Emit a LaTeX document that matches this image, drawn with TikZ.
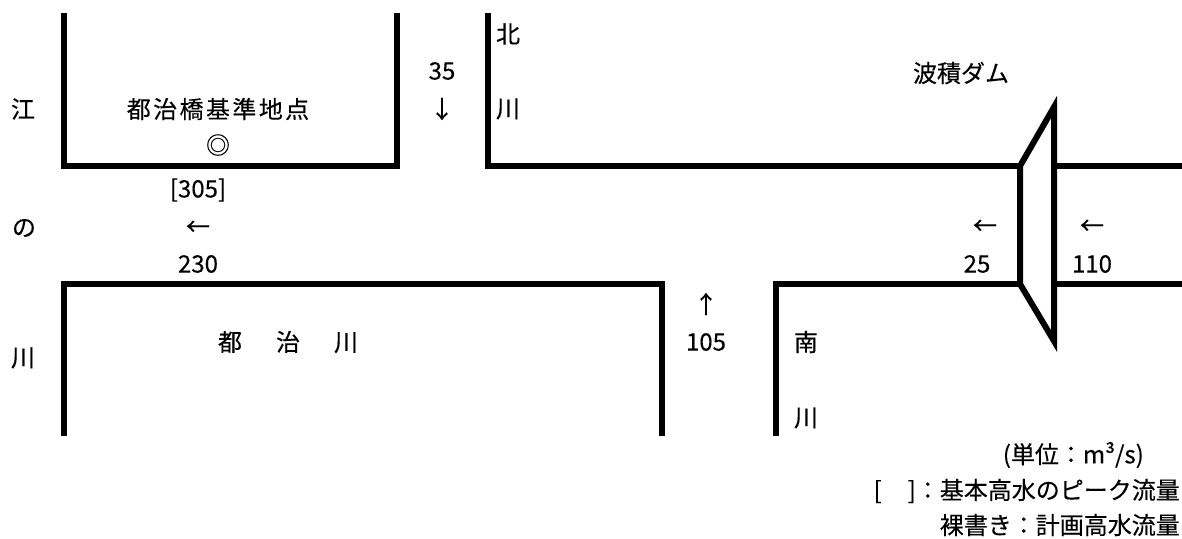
\documentclass[tikz,border=0pt]{standalone}
\usepackage{fontspec}
\setmainfont{Noto Sans CJK JP}[FakeBold=0.25]
\begin{document}
\begin{tikzpicture}[x=1pt, y=-1pt,
    wall/.style={line width=6pt},
    lbl/.style={font=\fontsize{24}{24}\selectfont, inner sep=0pt}]
    \useasboundingbox (0,0) rectangle (1182,538);

    \coordinate (A) at (64,13);
    \coordinate (B) at (64,166);
    \coordinate (C) at (397,166);
    \coordinate (D) at (397,13);
    \coordinate (E) at (488,13);
    \coordinate (F) at (488,166);
    \coordinate (G) at (1020,166);
    \coordinate (H) at (1020,284);
    \coordinate (I) at (776,436);
    \coordinate (J) at (776,284);
    \coordinate (K) at (662,436);
    \coordinate (L) at (662,284);
    \coordinate (M) at (64,284);
    \coordinate (N) at (64,436);
    \coordinate (O) at (1054,107);
    \coordinate (P) at (1054,341);
    \coordinate (Q) at (1057,166);
    \coordinate (R) at (1182,166);
    \coordinate (S) at (1057,284);
    \coordinate (T) at (1182,284);

    \draw [wall] (A) -- (B) -- (C) -- (D);
    \draw [wall] (E) -- (F) -- (G);
    \draw [wall] (I) -- (J) -- (H);
    \draw [wall] (N) -- (M) -- (L) -- (K);
    \draw [wall] (G) -- (O) -- (P) -- (H) -- cycle;
    \draw [wall] (Q) -- (R);
    \draw [wall] (S) -- (T);

    \node [lbl] (e1) at (23,109) {江};
    \node [lbl] (e2) at (24,228) {の};
    \node [lbl] (e3) at (23,358) {川};
    \node [lbl] (base) at (218,109) {\addfontfeature{LetterSpace=10}都治橋基準地点};
    \node [lbl] (mark) at (218,145) {◎};
    \node [lbl] (q305) at (198,190) {[305]};
    \node [lbl] (a230) at (198,228) {←};
    \node [lbl] (q230) at (198,264) {230};
    \node [lbl] (q35) at (442,71) {35};
    \node [lbl] (a35) at (442,109) {↓};
    \node [lbl] (n1) at (508,34) {北};
    \node [lbl] (n2) at (508,109) {川};
    \node [lbl] (dam) at (961,73) {波積ダム};
    \node [lbl] (a25) at (985,227) {←};
    \node [lbl] (q25) at (977,264) {25};
    \node [lbl] (a110) at (1092,227) {←};
    \node [lbl] (q110) at (1092,264) {110};
    \node [lbl] (a105) at (706,304) {↑};
    \node [lbl] (q105) at (706,342) {105};
    \node [lbl] (s1) at (806,342) {南};
    \node [lbl] (s2) at (806,418) {川};
    \node [lbl] (trib) at (288,342) {都\hspace{34pt}治\hspace{34pt}川};

    \node [lbl, anchor=east] (unit) at (1144,455) {(単位：m³/s)};
    \node [lbl, anchor=east] (peak) at (1180,491) {[\hspace{26pt}]：基本高水のピーク流量};
    \node [lbl, anchor=east] (plan) at (1180,525) {裸書き：計画高水流量};
\end{tikzpicture}
\end{document}
